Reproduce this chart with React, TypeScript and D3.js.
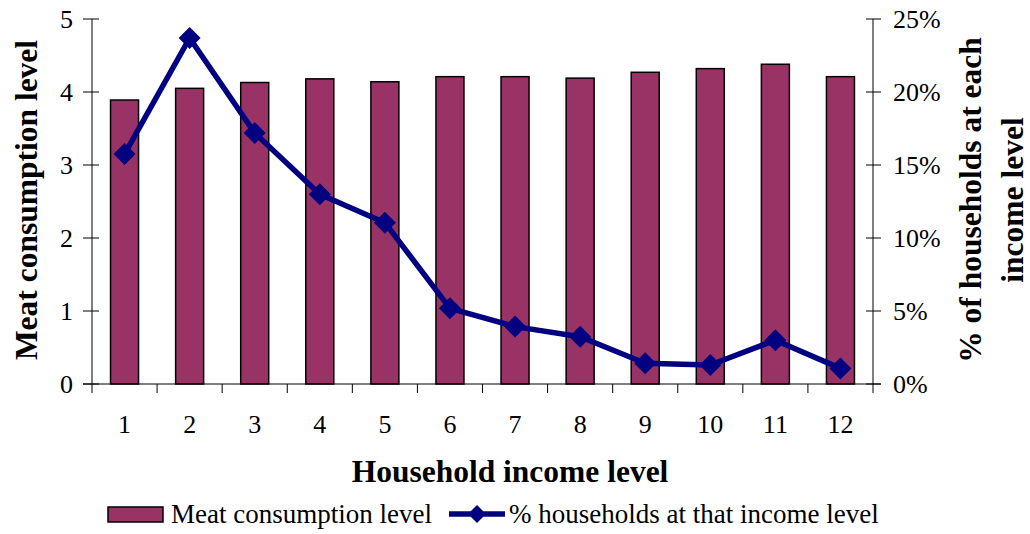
import React from "react";
import * as d3 from "d3";

const categories = ["1", "2", "3", "4", "5", "6", "7", "8", "9", "10", "11", "12"];
const meatConsumption = [3.89, 4.05, 4.13, 4.18, 4.14, 4.21, 4.21, 4.19, 4.27, 4.32, 4.38, 4.21];
const pctHouseholds = [15.75, 23.7, 17.2, 13.0, 11.05, 5.18, 3.93, 3.24, 1.42, 1.3, 3.0, 1.07];
const leftTicks = [0, 1, 2, 3, 4, 5];
const rightTicks = [0, 5, 10, 15, 20, 25];

const W = 1030, H = 534;
const L = 92, R = 873, T = 19, B = 384;
const FONT = "'Liberation Serif', 'Times New Roman', serif";

export default function App() {
  const x = d3.scaleBand().domain(categories).range([L, R]).paddingInner(0).paddingOuter(0);
  const yL = d3.scaleLinear().domain([0, 5]).range([B, T]);
  const yR = d3.scaleLinear().domain([0, 25]).range([B, T]);
  const bw = 28;
  const cx = (c: string) => (x(c) as number) + x.bandwidth() / 2;
  const line = d3.line<number>().x((_, i) => cx(categories[i])).y((d) => yR(d));
  const diamond = (px: number, py: number, s: number) =>
    `M${px},${py - s}L${px + s},${py}L${px},${py + s}L${px - s},${py}Z`;

  return (
    <svg width={W} height={H} style={{ position: "absolute", left: 0, top: 0, background: "#fff" }}>
      <rect x={0} y={0} width={W} height={H} fill="#fff" />
      {/* bars */}
      {meatConsumption.map((v, i) => (
        <rect key={i} x={cx(categories[i]) - bw / 2} y={yL(v)} width={bw} height={B - yL(v)}
          fill="#993366" stroke="#000" strokeWidth={1.5} />
      ))}
      {/* left axis */}
      <line x1={L} x2={L} y1={T} y2={B} stroke="#000" strokeWidth={1} />
      {leftTicks.map((t) => (
        <g key={t}>
          <line x1={L - 9} x2={L + 7} y1={yL(t)} y2={yL(t)} stroke="#000" />
          <text x={L - 19} y={yL(t)} dy="0.35em" textAnchor="end" fontFamily={FONT} fontSize={26}>{t}</text>
        </g>
      ))}
      {/* right axis */}
      <line x1={R} x2={R} y1={T} y2={B} stroke="#000" strokeWidth={1} />
      {rightTicks.map((t) => (
        <g key={t}>
          <line x1={R - 7} x2={R + 8} y1={yR(t)} y2={yR(t)} stroke="#000" />
          <text x={R + 20} y={yR(t)} dy="0.35em" textAnchor="start" fontFamily={FONT} fontSize={26}>{t}%</text>
        </g>
      ))}
      {/* x axis */}
      <line x1={L - 9} x2={R + 8} y1={B} y2={B} stroke="#000" />
      {d3.range(categories.length + 1).map((i) => (
        <line key={i} x1={L + i * x.bandwidth()} x2={L + i * x.bandwidth()} y1={B} y2={B + 9} stroke="#000" />
      ))}
      {categories.map((c) => (
        <text key={c} x={cx(c)} y={424} dy="0.35em" textAnchor="middle" fontFamily={FONT} fontSize={26}>{c}</text>
      ))}
      {/* line series */}
      <path d={line(pctHouseholds) || ""} fill="none" stroke="#000080" strokeWidth={5.5} strokeLinejoin="round" />
      {pctHouseholds.map((v, i) => (
        <path key={i} d={diamond(cx(categories[i]), yR(v), 11)} fill="#000080" />
      ))}
      {/* titles */}
      <text x={510} y={471} dy="0.35em" textAnchor="middle" fontFamily={FONT} fontSize={31.5} fontWeight="bold">Household income level</text>
      <text transform={`translate(26,200) rotate(-90)`} dy="0.35em" textAnchor="middle" fontFamily={FONT} fontSize={31.5} fontWeight="bold">Meat consumption level</text>
      <text transform={`translate(970,200) rotate(-90)`} dy="0.35em" textAnchor="middle" fontFamily={FONT} fontSize={31.5} fontWeight="bold">% of households at each</text>
      <text transform={`translate(1012,200) rotate(-90)`} dy="0.35em" textAnchor="middle" fontFamily={FONT} fontSize={31.5} fontWeight="bold">income level</text>
      {/* legend */}
      <rect x={108} y={507} width={55} height={15} fill="#993366" stroke="#000" strokeWidth={1.5} />
      <text x={171} y={514} dy="0.35em" fontFamily={FONT} fontSize={27}>Meat consumption level</text>
      <line x1={449} x2={505} y1={514} y2={514} stroke="#000080" strokeWidth={5.5} />
      <path d={diamond(477, 514, 9)} fill="#000080" />
      <text x={509} y={514} dy="0.35em" fontFamily={FONT} fontSize={27}>% households at that income level</text>
    </svg>
  );
}
